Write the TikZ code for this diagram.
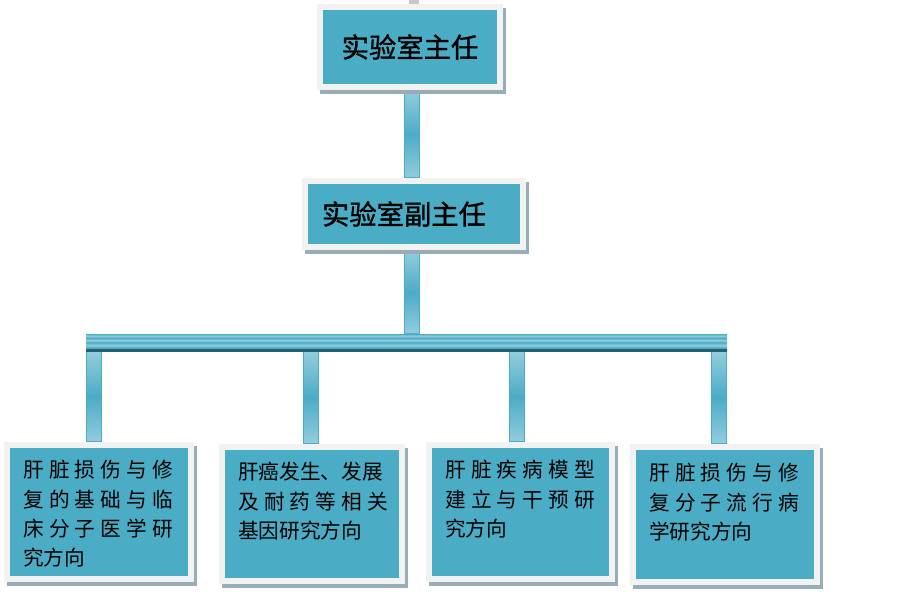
\documentclass[tikz,border=0pt]{standalone}
\usepackage{fontspec}
\usetikzlibrary{shadows}
\newfontfamily\cjk{Noto Sans CJK SC}
\newfontfamily\cjkb[FakeBold=1.2]{Noto Sans CJK SC}
\newfontfamily\cjksp[LetterSpace=25]{Noto Sans CJK SC}
\newcommand{\spc}[1]{{\cjksp #1}}
\definecolor{boxteal}{HTML}{4BACC6}
\definecolor{edgegray}{HTML}{F2F2F2}
\definecolor{shadowc}{HTML}{98AEB6}
\definecolor{barlight}{HTML}{93CDDD}
\definecolor{bardark}{HTML}{25606F}
\definecolor{stubgray}{HTML}{C8C8C8}
\pgfdeclareverticalshading{hbarshade}{100bp}{color(0bp)=(bardark); color(25bp)=(bardark); color(31bp)=(bardark); color(34bp)=(boxteal); color(42bp)=(barlight); color(50bp)=(boxteal); color(57bp)=(barlight); color(63bp)=(boxteal); color(70bp)=(barlight); color(75bp)=(boxteal); color(100bp)=(boxteal)}
\pgfdeclarelayer{bg}
\pgfsetlayers{bg,main}

\begin{document}
\begin{tikzpicture}[x=0.75pt, y=-0.75pt, bnode/.style={fill=edgegray, inner sep=0pt, drop shadow={shadow xshift=2.25pt, shadow yshift=-3pt, fill=shadowc, opacity=1}, path picture={\fill[boxteal] ([shift={(6,6)}]path picture bounding box.north west) rectangle ([shift={(-6,-6)}]path picture bounding box.south east);}}, hnode/.style={font=\fontsize{20.5pt}{24pt}\cjkb}, tnode/.style={anchor=north west, inner sep=0pt, align=left, font=\fontsize{15.5pt}{22pt}\cjk}, vbar/.style={draw=boxteal, line width=0.6pt, top color=barlight, bottom color=barlight, middle color=boxteal}]
    \useasboundingbox (0,0) rectangle (911,610);

    \node[bnode, hnode, minimum width=139.5pt, minimum height=64.5pt] (top) at (410,47) {实验室主任};
    \node[bnode, hnode, minimum width=168pt, minimum height=54pt] (sub) at (414,214) {\raisebox{-3pt}{实验室副主任}\kern15pt};
    \node[inner sep=0pt, shading=hbarshade, minimum width=480.75pt, minimum height=12.75pt] (hbar) at (406.5,342.5) {};

    \node[bnode, minimum width=142.5pt, minimum height=105pt] (b1) at (99,512) {};
    \node[bnode, minimum width=139.5pt, minimum height=105pt] (b2) at (312,514) {};
    \node[bnode, minimum width=141.75pt, minimum height=105pt] (b3) at (520.5,512) {};
    \node[bnode, minimum width=142.5pt, minimum height=105.75pt] (b4) at (725,514.5) {};

    \node[tnode] (t1) at (23,460) {\spc{肝脏损伤与修}\\ \spc{复的基础与临}\\ \spc{床分子医学研}\\ 究方向};
    \node[tnode] (t2) at (238,462) {肝癌发生、发展\\ \spc{及耐药等相关}\\ 基因研究方向};
    \node[tnode] (t3) at (445,460) {\spc{肝脏疾病模型}\\ \spc{建立与干预研}\\ 究方向};
    \node[tnode] (t4) at (649,463) {\spc{肝脏损伤与修}\\ \spc{复分子流行病}\\ 学研究方向};

    \coordinate (stub) at (409,0);

   \begin{pgfonlayer}{bg}
    \fill[stubgray] (stub) rectangle (419,0 |- top.north);
    \path[vbar] (404,0 |- top.south) rectangle (419,0 |- sub.north);
    \path[vbar] (404,0 |- sub.south) rectangle (419,0 |- hbar.north);
    \foreach \x/\b in {86/b1, 303/b2, 509/b3, 711/b4}
      \path[vbar] (\x,0 |- hbar.south) rectangle ({\x+15},0 |- \b.north);
   \end{pgfonlayer}

\end{tikzpicture}
\end{document}
